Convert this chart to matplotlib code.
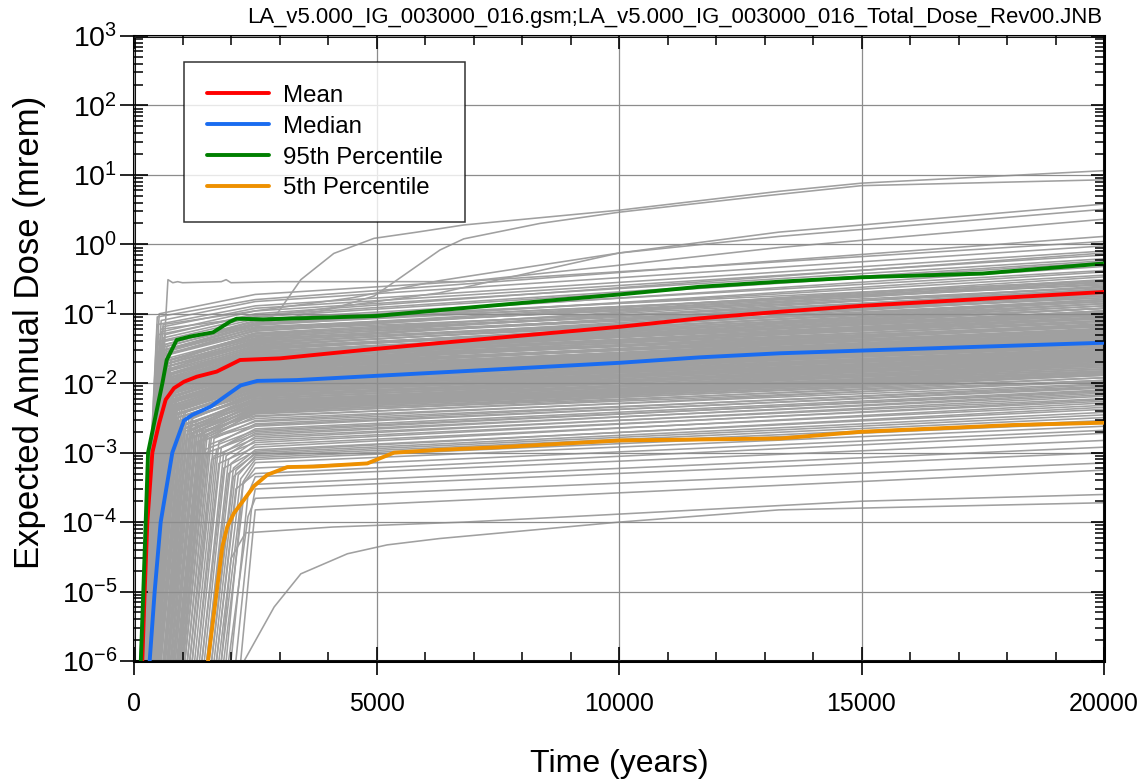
import matplotlib
matplotlib.use("Agg")
import matplotlib.pyplot as plt
from matplotlib.ticker import FixedLocator, LogLocator, NullFormatter, FixedFormatter

plt.rcParams['font.family'] = ['Liberation Sans', 'DejaVu Sans']
plt.rcParams['mathtext.fontset'] = 'custom'
plt.rcParams['mathtext.rm'] = 'Liberation Sans'
plt.rcParams['mathtext.it'] = 'Liberation Sans:italic'
plt.rcParams['mathtext.bf'] = 'Liberation Sans:bold'

TITLE = "LA_v5.000_IG_003000_016.gsm;LA_v5.000_IG_003000_016_Total_Dose_Rev00.JNB"
XLABEL = "Time (years)"
YLABEL = "Expected Annual Dose (mrem)"
X_TICKS = [0, 5000, 10000, 15000, 20000]
X_TICK_LABELS = ["0", "5000", "10000", "15000", "20000"]
Y_TICKS = [1e-6, 1e-5, 1e-4, 1e-3, 1e-2, 1e-1, 1e0, 1e1, 1e2, 1e3]
Y_TICK_LABELS = [r"$10^{-6}$", r"$10^{-5}$", r"$10^{-4}$", r"$10^{-3}$", r"$10^{-2}$",
                 r"$10^{-1}$", r"$10^{0}$", r"$10^{1}$", r"$10^{2}$", r"$10^{3}$"]

# statistics curves
MEAN_T = [171, 220, 275, 378, 515, 653, 825, 1030, 1293, 1705, 1980, 2186, 3010, 4720,
          6310, 10020, 11670, 13320, 14990, 20000]
MEAN_Y = [1e-6, 1e-5, 1e-4, 1e-3, 2.6e-3, 5.8e-3, 8.5e-3, 0.0105, 0.0124, 0.0147, 0.0183,
          0.0216, 0.0228, 0.030, 0.038, 0.065, 0.086, 0.107, 0.13, 0.206]
MEDIAN_T = [323, 426, 550, 790, 1030, 1202, 1581, 1924, 2199, 2543, 3354, 6310, 10020,
            11670, 13320, 14990, 20000]
MEDIAN_Y = [1e-6, 1e-5, 1e-4, 1e-3, 2.9e-3, 3.5e-3, 4.6e-3, 6.8e-3, 9.3e-3, 0.0108,
            0.0111, 0.0143, 0.0197, 0.0236, 0.027, 0.0295, 0.0383]
P95_T = [140, 192, 241, 290, 430, 585, 674, 880, 1155, 1630, 1980, 2117, 2660, 5000,
         6310, 10020, 11670, 13320, 14990, 17500, 20000]
P95_Y = [1e-6, 1e-5, 1e-4, 1e-3, 3e-3, 1e-2, 0.0216, 0.042, 0.047, 0.054, 0.077, 0.085,
         0.083, 0.093, 0.113, 0.19, 0.245, 0.29, 0.335, 0.38, 0.53]
P05_T = [1526, 1650, 1821, 1924, 2062, 2268, 2474, 2749, 3161, 3700, 4810, 5361, 6310,
         7546, 10020, 13320, 14990, 18120, 20000]
P05_Y = [1e-6, 4.9e-6, 4.4e-5, 8.6e-5, 1.35e-4, 2.1e-4, 3.3e-4, 4.8e-4, 6.2e-4, 6.3e-4,
         7.0e-4, 1e-3, 1.1e-3, 1.2e-3, 1.5e-3, 1.6e-3, 2.0e-3, 2.5e-3, 2.7e-3]

STAT_LABELS = ["Mean", "Median", "95th Percentile", "5th Percentile"]

# individual realizations (gray):
# onset time, knee time, knee dose, dose at 2500 yr, dose at 20000 yr
ONSET_DOSE = 1e-6
GRAY_MID_T = 2500
GRAY_END_T = 20000
GRAY_ROWS = [
    # upper
    (160, 520, 0.10, 0.19, 1.1), (150, 480, 0.09, 0.16, 1.3), (180, 560, 0.08, 0.15, 0.95),
    (140, 480, 0.07, 0.13, 0.8), (200, 600, 0.065, 0.12, 0.7), (170, 560, 0.055, 0.11, 0.62),
    (220, 640, 0.05, 0.10, 0.75), (150, 500, 0.05, 0.095, 0.58), (190, 600, 0.045, 0.09, 0.55),
    # B
    (130, 500, 0.040, 0.084, 0.42), (210, 640, 0.036, 0.080, 0.30), (160, 560, 0.035, 0.077, 0.48),
    (250, 680, 0.034, 0.074, 0.26), (140, 520, 0.032, 0.071, 0.36), (300, 720, 0.030, 0.068, 0.40),
    (180, 600, 0.030, 0.065, 0.22), (230, 640, 0.028, 0.062, 0.31), (120, 480, 0.028, 0.060, 0.27),
    (270, 700, 0.026, 0.058, 0.19), (200, 600, 0.026, 0.056, 0.34), (150, 540, 0.024, 0.053, 0.24),
    (320, 760, 0.022, 0.051, 0.21), (190, 600, 0.022, 0.049, 0.29), (260, 680, 0.021, 0.047, 0.17),
    (140, 520, 0.020, 0.045, 0.25), (230, 660, 0.019, 0.043, 0.20), (300, 740, 0.018, 0.041, 0.15),
    (170, 560, 0.018, 0.040, 0.23), (210, 620, 0.017, 0.038, 0.16), (280, 700, 0.016, 0.037, 0.19),
    (130, 500, 0.016, 0.036, 0.14), (240, 660, 0.015, 0.034, 0.18), (330, 780, 0.014, 0.033, 0.13),
    (180, 580, 0.014, 0.032, 0.15), (220, 640, 0.013, 0.031, 0.12), (290, 720, 0.013, 0.030, 0.16),
    (160, 540, 0.012, 0.029, 0.11), (250, 680, 0.012, 0.028, 0.13), (340, 800, 0.011, 0.0275, 0.10),
    (200, 600, 0.011, 0.027, 0.14), (270, 700, 0.010, 0.026, 0.095), (150, 520, 0.010, 0.0255, 0.12),
    (310, 760, 0.010, 0.025, 0.105), (230, 660, 0.009, 0.0245, 0.09),
    (190, 600, 0.030, 0.070, 0.28), (260, 700, 0.026, 0.063, 0.24), (150, 520, 0.024, 0.057, 0.30),
    (310, 760, 0.020, 0.052, 0.18), (220, 620, 0.020, 0.048, 0.22), (170, 560, 0.018, 0.044, 0.17),
    (280, 720, 0.016, 0.042, 0.21), (140, 500, 0.016, 0.039, 0.15), (240, 660, 0.015, 0.035, 0.16),
    (200, 600, 0.013, 0.033, 0.12), (300, 740, 0.012, 0.031, 0.14), (160, 540, 0.012, 0.029, 0.10),
    (260, 700, 0.011, 0.028, 0.12), (190, 600, 0.010, 0.026, 0.11), (350, 800, 0.010, 0.025, 0.085),
    # C
    (180, 600, 0.0105, 0.024, 0.11), (260, 700, 0.010, 0.0235, 0.08), (150, 540, 0.010, 0.023, 0.095),
    (330, 780, 0.0095, 0.0225, 0.075), (210, 640, 0.0095, 0.022, 0.10), (280, 720, 0.009, 0.0215, 0.07),
    (170, 560, 0.009, 0.021, 0.085), (240, 680, 0.0088, 0.0205, 0.065), (360, 820, 0.0085, 0.020, 0.09),
    (190, 600, 0.0085, 0.0195, 0.072), (300, 740, 0.008, 0.019, 0.06), (160, 560, 0.008, 0.0185, 0.08),
    (250, 700, 0.0078, 0.018, 0.058), (400, 860, 0.0075, 0.0176, 0.07), (220, 640, 0.0074, 0.0172, 0.062),
    (310, 760, 0.0072, 0.0168, 0.052), (180, 600, 0.007, 0.0164, 0.068), (270, 700, 0.0068, 0.016, 0.05),
    (350, 800, 0.0066, 0.0156, 0.060), (200, 620, 0.0065, 0.0152, 0.048), (290, 720, 0.0063, 0.0148, 0.056),
    (420, 880, 0.006, 0.0145, 0.045), (230, 660, 0.006, 0.0142, 0.052), (170, 580, 0.006, 0.0139, 0.044),
    (320, 760, 0.0058, 0.0136, 0.05), (260, 700, 0.0056, 0.0133, 0.041), (380, 840, 0.0055, 0.013, 0.048),
    (210, 640, 0.0054, 0.0127, 0.04), (300, 740, 0.0052, 0.0124, 0.046), (450, 900, 0.005, 0.0122, 0.038),
    (240, 680, 0.005, 0.012, 0.043), (190, 600, 0.005, 0.0118, 0.036), (340, 800, 0.0048, 0.0116, 0.042),
    (280, 720, 0.0047, 0.0114, 0.035), (410, 880, 0.0046, 0.0112, 0.04), (220, 660, 0.0045, 0.011, 0.034),
    (310, 760, 0.0044, 0.0108, 0.038), (480, 940, 0.0043, 0.0106, 0.033), (260, 700, 0.0042, 0.0104, 0.036),
    (350, 800, 0.0041, 0.0102, 0.031),
    (200, 620, 0.0095, 0.0228, 0.088), (290, 740, 0.009, 0.0212, 0.068), (230, 660, 0.0085, 0.0198, 0.078),
    (370, 820, 0.008, 0.0188, 0.055), (180, 580, 0.0076, 0.0178, 0.066), (320, 780, 0.0072, 0.0166, 0.049),
    (250, 680, 0.0068, 0.0158, 0.058), (400, 860, 0.0064, 0.015, 0.047), (210, 640, 0.006, 0.0143, 0.054),
    (340, 800, 0.0057, 0.0135, 0.043), (270, 700, 0.0054, 0.0128, 0.047), (440, 900, 0.0051, 0.0121, 0.037),
    (230, 660, 0.0049, 0.0115, 0.041), (380, 840, 0.0046, 0.0109, 0.034), (300, 740, 0.0043, 0.0103, 0.037),
    # D
    (320, 780, 0.0044, 0.0099, 0.034), (420, 880, 0.0043, 0.0097, 0.029), (280, 740, 0.0042, 0.0095, 0.032),
    (520, 980, 0.0041, 0.0093, 0.028), (360, 820, 0.004, 0.0091, 0.031), (600, 1060, 0.0039, 0.0089, 0.026),
    (300, 760, 0.0038, 0.0087, 0.030), (460, 920, 0.0037, 0.0085, 0.025), (380, 840, 0.0036, 0.0083, 0.029),
    (680, 1140, 0.0035, 0.0081, 0.024), (340, 800, 0.0034, 0.0079, 0.027), (550, 1010, 0.0033, 0.0077, 0.023),
    (430, 890, 0.0032, 0.0075, 0.026), (750, 1210, 0.0031, 0.0073, 0.022), (310, 770, 0.003, 0.0071, 0.025),
    (620, 1080, 0.003, 0.0069, 0.021), (480, 940, 0.0029, 0.0067, 0.024), (820, 1280, 0.0028, 0.0065, 0.020),
    (390, 850, 0.0027, 0.0063, 0.023), (700, 1160, 0.0026, 0.0061, 0.019), (540, 1000, 0.0025, 0.0059, 0.022),
    (900, 1360, 0.0024, 0.0057, 0.018), (450, 910, 0.0024, 0.0056, 0.021), (780, 1240, 0.0023, 0.0054, 0.017),
    (600, 1060, 0.0023, 0.0053, 0.020), (960, 1420, 0.0022, 0.0051, 0.016), (500, 960, 0.0021, 0.0050, 0.019),
    (850, 1310, 0.0021, 0.0049, 0.015), (650, 1110, 0.002, 0.0048, 0.018), (1000, 1460, 0.002, 0.0047, 0.0145),
    (560, 1020, 0.002, 0.0046, 0.017), (920, 1380, 0.0019, 0.0045, 0.014), (720, 1180, 0.0019, 0.0044, 0.016),
    (1050, 1510, 0.0018, 0.0043, 0.0135), (620, 1080, 0.0018, 0.0042, 0.015), (980, 1440, 0.0017, 0.0041, 0.013),
    (800, 1260, 0.0017, 0.0040, 0.0145), (1100, 1560, 0.0016, 0.0039, 0.012), (680, 1140, 0.0016, 0.0038, 0.0135),
    (900, 1360, 0.0015, 0.0037, 0.011),
    (400, 860, 0.0041, 0.0094, 0.027), (560, 1020, 0.0037, 0.0086, 0.031), (350, 810, 0.0034, 0.0078, 0.024),
    (720, 1180, 0.0031, 0.0072, 0.027), (470, 930, 0.0028, 0.0066, 0.021), (850, 1310, 0.0026, 0.006, 0.022),
    (520, 980, 0.0024, 0.0055, 0.018), (940, 1400, 0.0022, 0.0052, 0.019), (640, 1100, 0.002, 0.0047, 0.016),
    (1020, 1480, 0.0018, 0.0044, 0.015),
    # E
    (1000, 1450, 0.002, 0.0036, 0.013), (760, 1210, 0.0019, 0.0034, 0.0105), (1150, 1600, 0.0018, 0.0033, 0.012),
    (880, 1330, 0.0017, 0.0031, 0.0098), (1200, 1650, 0.0016, 0.0029, 0.011), (950, 1400, 0.0015, 0.0028, 0.009),
    (1300, 1750, 0.0014, 0.0026, 0.0095), (820, 1270, 0.0014, 0.0025, 0.0085), (1100, 1550, 0.0013, 0.0024, 0.0088),
    (1350, 1800, 0.0012, 0.0022, 0.008), (1000, 1450, 0.0011, 0.0021, 0.0075), (1250, 1700, 0.0011, 0.0020, 0.0078),
    (1400, 1850, 0.001, 0.0019, 0.0068), (1050, 1500, 0.001, 0.0018, 0.0072), (1450, 1900, 0.0009, 0.0017, 0.006),
    (1200, 1650, 0.0009, 0.0016, 0.0065), (1500, 1950, 0.0008, 0.0015, 0.0055), (1150, 1600, 0.0008, 0.0014, 0.0058),
    (1550, 2000, 0.0007, 0.0013, 0.0048), (1300, 1750, 0.0007, 0.0012, 0.0052), (1600, 2050, 0.0006, 0.0011, 0.0042),
    (1400, 1850, 0.0006, 0.00105, 0.0045), (1650, 2100, 0.00055, 0.001, 0.0038), (1500, 1950, 0.0005, 0.00095, 0.0035),
    (1700, 2150, 0.00048, 0.0009, 0.0032), (1600, 2050, 0.00045, 0.00085, 0.0029), (1750, 2200, 0.00042, 0.0008, 0.0027),
    (1800, 2250, 0.00038, 0.00072, 0.0024),
    # F
    (1900, 2250, 0.00035, 0.0006, 0.0021), (1700, 2100, 0.0003, 0.0005, 0.0019), (2000, 2350, 0.00025, 0.00045, 0.0015),
    (1850, 2250, 0.0002, 0.00035, 0.0012), (2100, 2420, 0.00015, 0.0003, 0.001), (1950, 2350, 0.00012, 0.00022, 0.00071),
    (2200, 2460, 0.00008, 0.00015, 0.00056),
]

# special realizations traced individually
SPECIAL_T = [
    [250, 700, 800, 900, 1000, 1800, 1900, 2000, 3000, 6800, 10000, 13300, 20000],
    [150, 550, 2500, 4000, 6300, 10000, 13300, 20000],
    [160, 600, 2500, 4500, 6300, 10000, 13300, 20000],
    [140, 600, 2500, 2950, 3440, 4120, 4950, 5840, 6800, 10000, 13300, 15000, 20000],
    [150, 600, 2500, 4120, 4950, 5840, 6310, 6800, 8370, 10000, 12900, 15000, 20000],
    [2270, 2890, 3440, 4400, 5220, 6300, 10000, 13300, 20000],
    [1800, 2000, 2300, 4100, 6800, 9600, 15000, 20000],
]
SPECIAL_Y = [
    [1e-6, 0.31, 0.28, 0.29, 0.28, 0.29, 0.31, 0.28, 0.29, 0.29, 0.5, 0.9, 2.3],
    [1e-6, 0.06, 0.09, 0.12, 0.2, 0.75, 1.5, 3.8],
    [1e-6, 0.07, 0.11, 0.17, 0.3, 0.75, 1.3, 3.2],
    [1e-6, 0.04, 0.07, 0.1, 0.31, 0.74, 1.22, 1.5, 1.9, 3.1, 5.8, 7.6, 11.5],
    [1e-6, 0.04, 0.07, 0.12, 0.18, 0.49, 0.83, 1.2, 2.0, 2.9, 4.9, 7.0, 8.5],
    [1e-6, 6e-6, 1.8e-5, 3.5e-5, 4.7e-5, 5.8e-5, 1e-4, 1.5e-4, 1.9e-4],
    [1e-6, 3e-5, 7e-5, 8.5e-5, 1e-4, 1.26e-4, 2e-4, 2.5e-4],
]

GRAY = '#a0a0a0'
COLORS = ['#ff0000', '#1a6cf0', '#007f00', '#ee9000']

W, H = 1148, 782
fig = plt.figure(figsize=(W / 100, H / 100), dpi=100)
L, R, B, T = 134, 1104, 661, 36
ax = fig.add_axes([L / W, 1 - B / H, (R - L) / W, (B - T) / H])

for (t0, t1, y1, ym, ye) in GRAY_ROWS:
    ax.plot([t0, t1, GRAY_MID_T, GRAY_END_T], [ONSET_DOSE, y1, ym, ye],
            color=GRAY, lw=1.15, zorder=1.5)
for ts, ys in zip(SPECIAL_T, SPECIAL_Y):
    ax.plot(ts, ys, color=GRAY, lw=1.15, zorder=1.5)

stat_lines = []
for ts, ys, c, lab in zip([MEAN_T, MEDIAN_T, P95_T, P05_T], [MEAN_Y, MEDIAN_Y, P95_Y, P05_Y],
                          COLORS, STAT_LABELS):
    ln, = ax.plot(ts, ys, color=c, lw=2.8, label=lab, zorder=3, solid_capstyle='round')
    stat_lines.append(ln)

ax.set_yscale('log')
ax.set_xlim(0, 20000)
ax.set_ylim(1e-6, 1e3)
ax.set_axisbelow(False)
ax.grid(True, which='major', color='#8c8c8c', lw=0.9)

ax.xaxis.set_major_locator(FixedLocator(X_TICKS))
ax.xaxis.set_major_formatter(FixedFormatter(X_TICK_LABELS))
ax.xaxis.set_minor_locator(FixedLocator(list(range(1000, 20000, 1000))))
ax.yaxis.set_major_locator(FixedLocator(Y_TICKS))
ax.yaxis.set_major_formatter(FixedFormatter(Y_TICK_LABELS))
ax.yaxis.set_minor_locator(LogLocator(base=10, subs=range(2, 10), numticks=20))
ax.yaxis.set_minor_formatter(NullFormatter())

ax.tick_params(which='major', direction='inout', length=20, width=1.2,
               top=False, right=False)
ax.tick_params(axis='y', which='major', pad=2, labelsize=20.5)
ax.tick_params(axis='x', which='major', pad=12, labelsize=18)
ax.tick_params(which='minor', direction='in', length=6.5, width=1.1, top=False, right=False)
for s in ax.spines.values():
    s.set_linewidth(2.2)

# right and top inward ticks
axr = ax.twinx()
axr.set_yscale('log')
axr.set_ylim(1e-6, 1e3)
axr.yaxis.set_major_locator(FixedLocator(Y_TICKS))
axr.yaxis.set_minor_locator(LogLocator(base=10, subs=range(2, 10), numticks=20))
axr.tick_params(which='major', direction='in', length=9.5, width=1.2, labelright=False)
axr.tick_params(which='minor', direction='in', length=6.5, width=1.1)
axt = ax.twiny()
axt.set_xlim(0, 20000)
axt.xaxis.set_major_locator(FixedLocator(X_TICKS))
axt.xaxis.set_minor_locator(FixedLocator(list(range(1000, 20000, 1000))))
axt.tick_params(which='major', direction='in', length=9.5, width=1.2, labeltop=False)
axt.tick_params(which='minor', direction='in', length=6.5, width=1.1)
for a in (axr, axt):
    for s in a.spines.values():
        s.set_visible(False)

ax.set_xlabel(XLABEL, fontsize=23, labelpad=24)
ax.set_ylabel(YLABEL, fontsize=25, labelpad=11)
ax.yaxis.label.set_y(0.525)

fig.text(1102 / W, 1 - 17 / H, TITLE, ha='right', va='center', fontsize=15.9)

leg = fig.legend(handles=stat_lines, labels=STAT_LABELS, loc='upper left',
                 bbox_to_anchor=(184 / W, 1 - 62 / H), bbox_transform=fig.transFigure,
                 fontsize=17.3, frameon=True, fancybox=False, borderaxespad=0,
                 handlelength=2.6, handletextpad=0.55, labelspacing=0.37, borderpad=0.95)
leg.get_frame().set_edgecolor('black')
leg.get_frame().set_linewidth(1.1)
leg.set_zorder(10)

fig.savefig('out.png', dpi=100)
